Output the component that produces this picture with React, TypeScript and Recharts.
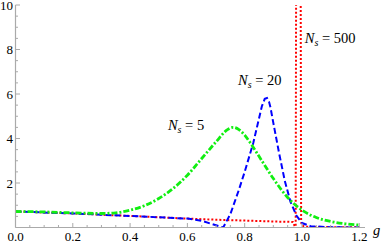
import React from 'react';
import { LineChart, Line, XAxis, YAxis, ReferenceDot } from 'recharts';

const SERIF = '"Liberation Serif", "Times New Roman", serif';
const AXIS = '#aaaaaa';

// N_s = 5 (green, dot-dashed)
const gNs5 = [0, 0.1, 0.2, 0.3, 0.35, 0.4, 0.45, 0.5, 0.55, 0.6, 0.65, 0.7, 0.74, 0.76, 0.78, 0.8, 0.82, 0.85, 0.9, 0.95, 1.0, 1.05, 1.1, 1.15, 1.2];
const ns5 = [0.72, 0.7, 0.66, 0.63, 0.66, 0.78, 0.98, 1.3, 1.75, 2.35, 3.1, 3.85, 4.4, 4.5, 4.4, 4.15, 3.8, 3.2, 2.2, 1.35, 0.78, 0.45, 0.27, 0.17, 0.11];

// N_s = 20 (blue, dashed)
const gNs20 = [0, 0.2, 0.4, 0.6, 0.65, 0.7, 0.725, 0.75, 0.78, 0.8, 0.83, 0.85, 0.86, 0.87, 0.878, 0.885, 0.89, 0.9, 0.92, 0.94, 0.96, 0.98, 1.0, 1.03, 1.1, 1.2];
const ns20 = [0.72, 0.63, 0.52, 0.4, 0.3, 0.1, 0.0, 0.6, 1.7, 2.5, 3.8, 4.9, 5.45, 5.78, 5.82, 5.65, 5.4, 4.7, 3.35, 2.1, 1.15, 0.55, 0.2, 0.06, 0.01, 0];

// N_s = 500 (red, dotted) - spike runs past the top of the plot
const gNs500 = [0, 0.2, 0.4, 0.6, 0.7, 0.8, 0.9, 0.968, 0.975, 0.978, 0.98, 0.995, 0.997, 0.999, 1.01, 1.05, 1.2];
const ns500 = [0.72, 0.63, 0.52, 0.4, 0.35, 0.31, 0.27, 0.25, 0.05, 0.05, 14, 14, 0.3, 0.1, 0.04, 0.02, 0.01];

const xTicks = Array.from({ length: 25 }, (_, i) => +(i * 0.05).toFixed(2));
const yTicks = Array.from({ length: 20 }, (_, i) => (i + 1) * 0.5);

const labels = [
  { ns: 5, g: 0.532, v: 4.62 },
  { ns: 20, g: 0.777, v: 6.64 },
  { ns: 500, g: 1.01, v: 8.53 },
];

const toRows = (gs: number[], vs: number[]) => gs.map((g, i) => ({ g, v: vs[i] }));

const green = toRows(gNs5, ns5);
const blue = toRows(gNs20, ns20);
const red = toRows(gNs500, ns500);

const isStep = (v: number, step: number) => Math.abs(v / step - Math.round(v / step)) < 1e-6;

const textStyle = { fontFamily: SERIF, fontSize: 13 };

const renderXTick = ({ x, y, payload }: any) => {
  const major = isStep(payload.value, 0.2);
  return (
    <g key={`xt-${payload.value}`}>
      <line x1={x} x2={x} y1={y} y2={y - (major ? 4.5 : 2.5)} stroke={AXIS} />
      {major && (
        <text x={x} y={y + 13.5} textAnchor="middle" style={textStyle} fill="#000">
          {Number(payload.value).toFixed(1)}
        </text>
      )}
    </g>
  );
};

const renderYTick = ({ x, y, payload }: any) => {
  const major = isStep(payload.value, 2);
  return (
    <g key={`yt-${payload.value}`}>
      <line x1={x} x2={x + (major ? 4.5 : 2.5)} y1={y} y2={y} stroke={AXIS} />
      {major && (
        <text x={x - 2.5} y={y} dy="0.35em" textAnchor="end" style={textStyle} fill="#000">
          {payload.value}
        </text>
      )}
    </g>
  );
};

const NsLabel = ({ cx, cy, ns }: any) => (
  <text x={cx} y={cy} dy="0.35em" style={{ fontFamily: SERIF, fontSize: 14.5 }} fill="#000">
    <tspan fontStyle="italic">N</tspan>
    <tspan fontStyle="italic" fontSize={10} dy={3}>s</tspan>
    <tspan dy={-3}>{' = ' + ns}</tspan>
  </text>
);

const AxisName = ({ viewBox }: any) => (
  <text x={viewBox.x + viewBox.width + 8} y={viewBox.y + 7.5} style={{ fontFamily: SERIF, fontSize: 14.5, fontStyle: 'italic' }} fill="#000">
    g
  </text>
);

export default function App() {
  return (
    <div style={{ position: 'absolute', left: 0, top: 0 }}>
      <LineChart width={381} height={243} margin={{ top: 5, right: 16, bottom: 0, left: 0 }}>
        <XAxis
          type="number"
          dataKey="g"
          domain={[0, 1.22]}
          ticks={xTicks}
          interval={0}
          height={15.5}
          tickSize={0}
          tickMargin={0}
          tickLine={false}
          tick={renderXTick}
          axisLine={{ stroke: AXIS, strokeWidth: 1.2 }}
          label={{ content: <AxisName /> }}
          allowDataOverflow
        />
        <YAxis
          type="number"
          domain={[0, 10]}
          ticks={yTicks}
          interval={0}
          width={15.5}
          tickSize={0}
          tickMargin={0}
          tickLine={false}
          tick={renderYTick}
          axisLine={{ stroke: AXIS, strokeWidth: 1.2 }}
          allowDataOverflow
        />
        <Line data={red} dataKey="v" type="linear" stroke="#ff0000" strokeWidth={2} strokeDasharray="2 2" dot={false} activeDot={false} isAnimationActive={false} />
        <Line data={blue} dataKey="v" type="linear" stroke="#0000ff" strokeWidth={2} strokeDasharray="6 3" dot={false} activeDot={false} isAnimationActive={false} />
        <Line data={green} dataKey="v" type="monotone" stroke="#11ee11" strokeWidth={2.8} strokeDasharray="6 2 2 2" dot={false} activeDot={false} isAnimationActive={false} />
        {labels.map((l) => (
          <ReferenceDot key={l.ns} x={l.g} y={l.v} r={0} shape={(p: any) => <NsLabel cx={p.cx} cy={p.cy} ns={l.ns} />} />
        ))}
      </LineChart>
    </div>
  );
}
